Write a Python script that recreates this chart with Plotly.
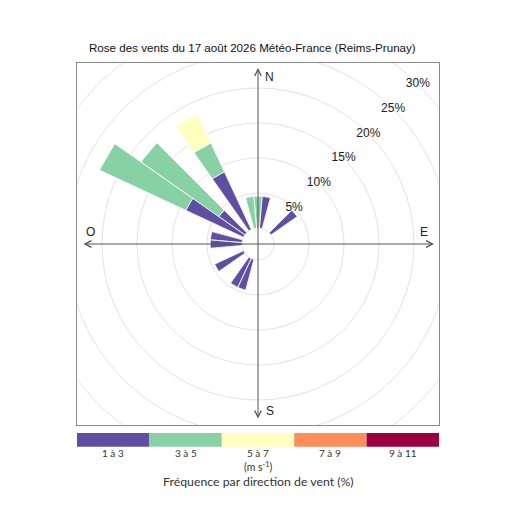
import math
import plotly.graph_objects as go

# Rose des vents — fréquences (%) par direction et classe de vitesse
directions = [0, 10, 50, 200, 210, 240, 270, 280, 300, 310, 330, 350]
speed_labels = ["1 à 3", "3 à 5", "5 à 7", "7 à 9", "9 à 11"]
speed_colors = ["#5E4FA2", "#88D1A4", "#FFFFBF", "#FD8D59", "#9E0142"]
freq_1_3 = [0, 4.55, 4.55, 4.55, 4.55, 4.55, 4.55, 4.55, 9.1, 4.55, 9.1, 0]
freq_3_5 = [4.55, 0, 0, 0, 0, 0, 0, 0, 13.6, 13.6, 4.55, 4.55]
freq_5_7 = [0, 0, 0, 0, 0, 0, 0, 0, 0, 0, 4.55, 0]
freq_7_9 = [0] * 12
freq_9_11 = [0] * 12
rings = [5, 10, 15, 20, 25, 30]
ring_labels = ["5%", "10%", "15%", "20%", "25%", "30%"]

title = "Rose des vents du 17 août 2026 Météo-France (Reims-Prunay)"
hole = 2.29      # décalage central (en %)
sector = 10      # largeur d'un secteur (degrés)
half = 25.86     # demi-étendue des axes


def pt(r, ang):
    a = math.radians(ang)
    return r * math.sin(a), r * math.cos(a)


def note(**kw):
    kw.setdefault("showarrow", False)
    kw.setdefault("xanchor", "center")
    kw.setdefault("yanchor", "middle")
    fig.add_annotation(**kw)


fig = go.Figure()

series = [freq_1_3, freq_3_5, freq_5_7, freq_7_9, freq_9_11]
base = [0.0] * len(directions)
for vals, col, lab in zip(series, speed_colors, speed_labels):
    xs, ys = [], []
    for i, d in enumerate(directions):
        if vals[i] <= 0:
            continue
        r0 = hole + base[i]
        r1 = hole + base[i] + vals[i]
        for r, a in [(r0, d - sector / 2), (r1, d - sector / 2),
                     (r1, d + sector / 2), (r0, d + sector / 2), (r0, d - sector / 2)]:
            x, y = pt(r, a)
            xs.append(x)
            ys.append(y)
        xs.append(None)
        ys.append(None)
        base[i] += vals[i]
    if xs:
        fig.add_trace(go.Scatter(x=xs, y=ys, mode="lines", fill="toself",
                                 fillcolor=col, line=dict(color="white", width=0.7),
                                 name=lab, hoverinfo="skip"))

# cercles
for r in [0] + rings:
    rr = hole + r
    fig.add_shape(type="circle", xref="x", yref="y", x0=-rr, x1=rr, y0=-rr, y1=rr,
                  line=dict(color="#e3e3e3", width=1), layer="below")

# étiquettes des cercles
lx, ly = [], []
for r in rings:
    x, y = pt(hole + r, 45)
    lx.append(x)
    ly.append(y)
fig.add_trace(go.Scatter(x=lx, y=ly, mode="text", text=ring_labels,
                         textfont=dict(family="Liberation Sans", size=12, color="#222"),
                         hoverinfo="skip"))

# axes N-S / E-O
arm = 25.15
for (x0, y0, x1, y1) in [(0, -arm, 0, arm), (-arm, 0, arm, 0)]:
    fig.add_annotation(x=x1, y=y1, ax=x0, ay=y0, xref="x", yref="y", axref="x", ayref="y",
                       text="", showarrow=True, arrowside="end+start", arrowhead=5,
                       startarrowhead=5, arrowsize=1.3, startarrowsize=1.3,
                       arrowwidth=1, arrowcolor="#555")

for txt, x, y in [("N", 1.67, 23.8), ("S", 1.67, -23.86), ("E", 23.7, 1.67), ("O", -23.9, 1.67)]:
    note(x=x, y=y, xref="x", yref="y", text=txt,
         font=dict(family="Liberation Sans", size=12, color="#222"))

# légende des vitesses
n = len(speed_labels)
for k, (lab, col) in enumerate(zip(speed_labels, speed_colors)):
    fig.add_shape(type="rect", xref="paper", yref="paper",
                  x0=k / n, x1=(k + 1) / n, y0=-0.060, y1=-0.022,
                  fillcolor=col, line=dict(width=0))
    note(x=(k + 0.5) / n, y=-0.0773, xref="paper", yref="paper", text=lab,
         font=dict(family="Lato", size=10, color="#333"))

note(x=0.5, y=-0.116, xref="paper", yref="paper", text="(m s<sup>-1</sup>)",
     font=dict(family="Lato", size=10.5, color="#333"))
note(x=0.5, y=-0.155, xref="paper", yref="paper",
     text="Fréquence par direction de vent (%)",
     font=dict(family="Lato", size=12.3, color="#333"))
note(x=0.485, y=1.044, xref="paper", yref="paper", text=title,
     font=dict(family="Liberation Sans", size=11.6, color="#111"))

ax = dict(range=[-half, half], showgrid=False, zeroline=False, showticklabels=False,
          ticks="", showline=True, mirror=True, linecolor="#8a8a8a", linewidth=1,
          fixedrange=True)
fig.update_xaxes(**ax)
fig.update_yaxes(**ax)
fig.update_layout(
    width=512, height=512,
    margin=dict(l=69, r=81, t=55, b=95),
    paper_bgcolor="white", plot_bgcolor="white",
    showlegend=False,
)

fig.write_html("out.html")
